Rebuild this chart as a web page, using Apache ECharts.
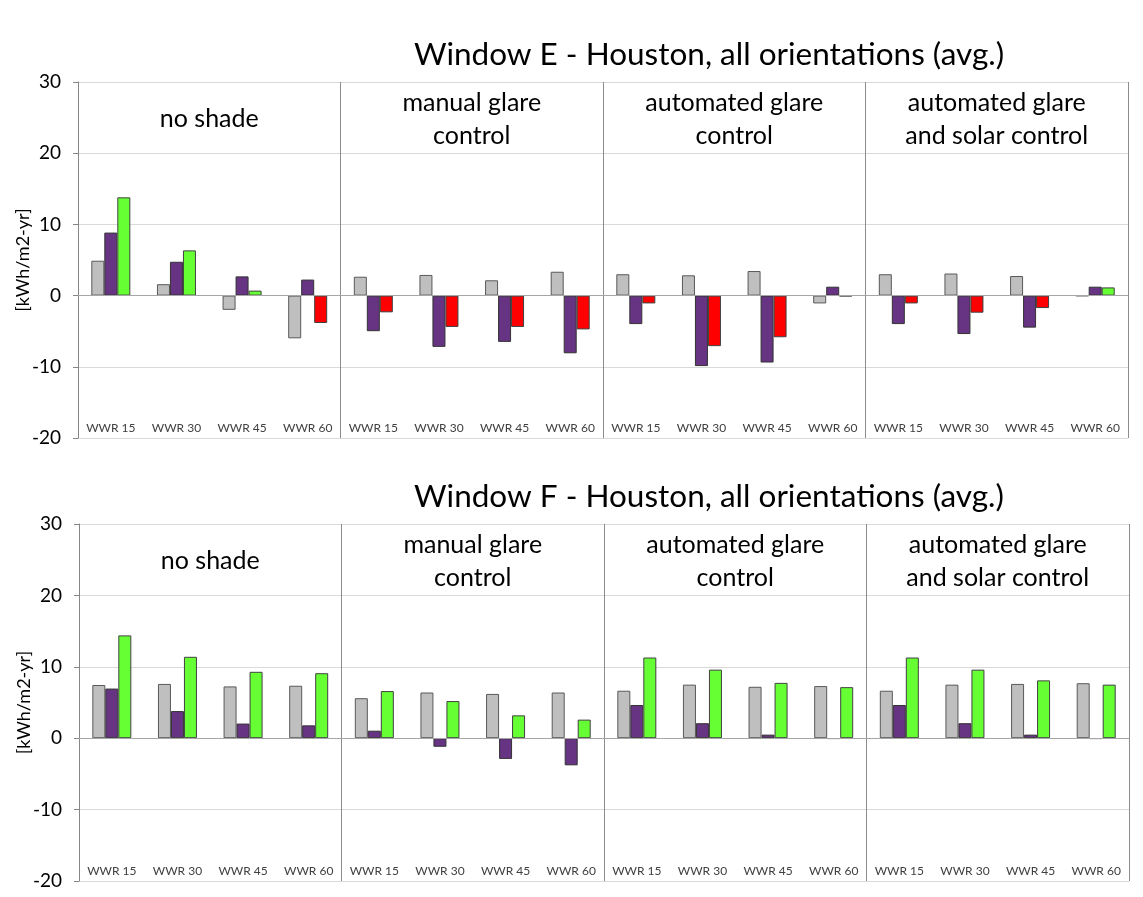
<!DOCTYPE html>
<html>
<head>
<meta charset="utf-8">
<title>Window E / F - Houston, all orientations</title>
<script src="https://cdn.jsdelivr.net/npm/echarts@6/dist/echarts.min.js"></script>
<style>
html, body { margin: 0; padding: 0; background: #fff; }
#chart { width: 1143px; height: 897px; }
</style>
</head>
<body>
<div id="chart"></div>
<script>
// shading cases (top axis) and window-to-wall ratios (bottom axis)
const sections = ['no shade', 'manual glare\ncontrol', 'automated glare\ncontrol', 'automated glare\nand solar control']
const wwr = ['WWR 15', 'WWR 30', 'WWR 45', 'WWR 60']
const categories = sections.flatMap(() => wwr)

const yMin = -20
const yMax = 30
const yStep = 10

// Window E, kWh/m2-yr
const eGray = [4.9, 1.6, -2.0, -6.0, 2.65, 2.9, 2.15, 3.35, 3.0, 2.85, 3.45, -1.1, 3.0, 3.1, 2.75, -0.05]
const ePurple = [8.85, 4.75, 2.7, 2.25, -5.0, -7.2, -6.5, -8.1, -4.0, -9.9, -9.4, 1.25, -4.0, -5.4, -4.5, 1.25]
const eNet = [13.8, 6.35, 0.7, -3.85, -2.35, -4.4, -4.4, -4.75, -1.1, -7.1, -5.85, -0.1, -1.1, -2.4, -1.75, 1.15]

// Window F, kWh/m2-yr
const fGray = [7.45, 7.6, 7.25, 7.35, 5.6, 6.4, 6.2, 6.4, 6.65, 7.5, 7.2, 7.3, 6.65, 7.5, 7.6, 7.7]
const fPurple = [6.95, 3.8, 2.05, 1.8, 1.05, -1.2, -2.9, -3.8, 4.65, 2.1, 0.5, -0.1, 4.65, 2.1, 0.5, -0.1]
const fNet = [14.4, 11.4, 9.3, 9.1, 6.6, 5.2, 3.2, 2.6, 11.3, 9.6, 7.75, 7.15, 11.3, 9.6, 8.1, 7.5]

const titles = ['Window E - Houston, all orientations (avg.)', 'Window F - Houston, all orientations (avg.)']

const FONT = 'Lato'
const chart = echarts.init(document.getElementById('chart'))

function xAxes(gridIndex) {
  return [
    { // WWR labels, sitting inside the plot just above the -20 line
      type: 'category',
      gridIndex: gridIndex,
      position: 'bottom',
      data: categories,
      axisLine: { show: false },
      axisTick: { show: false },
      axisLabel: { inside: true, interval: 0, margin: 4, fontSize: 12, fontFamily: FONT, color: '#404040' }
    },
    { // section names + vertical separators
      type: 'category',
      gridIndex: gridIndex,
      position: 'top',
      data: sections,
      axisLine: { show: false },
      axisTick: { show: false },
      splitLine: { show: true, interval: 0, lineStyle: { color: '#8c8c8c', width: 1 } },
      axisLabel: {
        inside: true, interval: 0, margin: 37, verticalAlign: 'middle',
        fontSize: 25, lineHeight: 33, fontFamily: FONT, color: '#000'
      }
    }
  ]
}

function yAxis(gridIndex) {
  return {
    type: 'value',
    gridIndex: gridIndex,
    min: yMin,
    max: yMax,
    interval: yStep,
    name: '[kWh/m2-yr]',
    nameLocation: 'middle',
    nameGap: 46,
    nameMoveOverlap: false,
    nameTextStyle: { fontSize: 18, fontFamily: FONT, color: '#000' },
    axisLine: { show: true, lineStyle: { color: '#868686' } },
    axisTick: { show: true, length: 5, lineStyle: { color: '#868686' } },
    axisLabel: { margin: 17, fontSize: 19, fontFamily: FONT, color: '#000' },
    splitLine: { show: true, lineStyle: { color: '#d9d9d9' } }
  }
}

function barSeries(k, gray, purple, net) {
  const common = {
    type: 'bar',
    xAxisIndex: k * 2,
    yAxisIndex: k,
    barWidth: 13,
    barGap: '0%'
  }
  return [
    Object.assign({}, common, {
      data: gray,
      itemStyle: { color: '#bfbfbf', borderColor: '#595959', borderWidth: 1 },
      markLine: {
        silent: true,
        symbol: 'none',
        label: { show: false },
        lineStyle: { color: '#a6a6a6', type: 'solid', width: 1 },
        data: [{ yAxis: 0 }]
      }
    }),
    Object.assign({}, common, {
      data: purple,
      itemStyle: { color: '#663482', borderColor: '#333', borderWidth: 1 }
    }),
    Object.assign({}, common, {
      data: net,
      itemStyle: {
        color: p => (p.value < 0 ? '#ff0000' : '#66ff33'),
        borderColor: '#404040',
        borderWidth: 1
      }
    })
  ]
}

chart.setOption({
  backgroundColor: '#fff',
  animation: false,
  graphic: [
    { type: 'text', x: 709, y: 55, style: { text: titles[0], font: '31.5px ' + FONT, fill: '#000', align: 'center', verticalAlign: 'middle' } },
    { type: 'text', x: 709, y: 497, style: { text: titles[1], font: '31.5px ' + FONT, fill: '#000', align: 'center', verticalAlign: 'middle' } }
  ],
  grid: [
    { left: 78, right: 15, top: 82, height: 356, outerBoundsMode: 'none' },
    { left: 79, right: 14, top: 524, height: 357, outerBoundsMode: 'none' }
  ],
  xAxis: xAxes(0).concat(xAxes(1)),
  yAxis: [yAxis(0), yAxis(1)],
  series: barSeries(0, eGray, ePurple, eNet).concat(barSeries(1, fGray, fPurple, fNet))
})
</script>
</body>
</html>
